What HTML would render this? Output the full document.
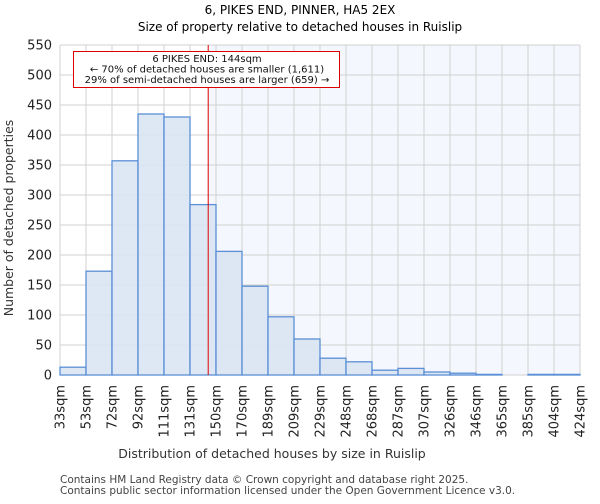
<!DOCTYPE html>
<html><head><meta charset="utf-8"><style>
body{margin:0;background:#fff;font-family:"DejaVu Sans","Liberation Sans",sans-serif}
</style></head><body>
<svg width="600" height="500" xmlns="http://www.w3.org/2000/svg" font-family="DejaVu Sans, Liberation Sans, sans-serif">
<text x="300" y="14" font-size="12" text-anchor="middle">6, PIKES END, PINNER, HA5 2EX</text>
<text x="300" y="31" font-size="12" text-anchor="middle">Size of property relative to detached houses in Ruislip</text>
<g id="plot"></g>
<text x="272" y="458" font-size="12.5" text-anchor="middle" fill="#333">Distribution of detached houses by size in Ruislip</text>
<text transform="translate(13,218) rotate(-90)" font-size="12.5" text-anchor="middle" fill="#333">Number of detached properties</text>
<text x="60" y="483" font-size="10.5" fill="#444">Contains HM Land Registry data © Crown copyright and database right 2025.</text>
<text x="60" y="494" font-size="10.5" fill="#444">Contains public sector information licensed under the Open Government Licence v3.0.</text>
</svg>
<script>
const categories=["33sqm","53sqm","72sqm","92sqm","111sqm","131sqm","150sqm","170sqm","189sqm","209sqm","229sqm","248sqm","268sqm","287sqm","307sqm","326sqm","346sqm","365sqm","385sqm","404sqm","424sqm"];
const counts=[13,173,357,435,430,284,206,148,97,60,28,22,8,11,5,3,1,0,1,1];
const yTicks=[0,50,100,150,200,250,300,350,400,450,500,550];
const markerPosition=5.7;
const NS="http://www.w3.org/2000/svg";
const L=60,R=580,T=45,B=375,YMAX=550;
const nb=counts.length;
const xS=i=>L+(R-L)*i/nb;
const yS=v=>B-(B-T)*v/YMAX;
const g=document.getElementById('plot');
function mk(t,a){const e=document.createElementNS(NS,t);for(const k in a)e.setAttribute(k,a[k]);g.appendChild(e);return e;}
const mx=xS(markerPosition);
let e=mk('rect',{x:mx,y:T,width:R-mx,height:B-T,fill:'#f4f7fd'});


yTicks.forEach(v=>{
 let l=mk('line',{x1:L,x2:R,y1:yS(v),y2:yS(v),stroke:'#d0d0d0','stroke-width':1});
 
 
 let t=mk('text',{x:L-8,y:yS(v)+4.5,'font-size':13,'text-anchor':'end',fill:'#222'});t.textContent=v;
 
 
});
categories.forEach((c,i)=>{
 let l=mk('line',{x1:xS(i),x2:xS(i),y1:T,y2:B,stroke:'#d0d0d0','stroke-width':1});
 
 
 let t=mk('text',{transform:`translate(${xS(i)+4.5},${B+10}) rotate(-90)`,'font-size':13,'text-anchor':'end',fill:'#222'});t.textContent=c;
 
 
});
counts.forEach((v,i)=>{
 let r=mk('rect',{x:xS(i),y:yS(v),width:xS(i+1)-xS(i),height:B-yS(v),fill:'#dae4f3','fill-opacity':0.9,stroke:'#5b8fd6','stroke-width':1.3});
 
 
});
e=mk('line',{x1:mx,x2:mx,y1:T,y2:B,stroke:'#dd0000','stroke-width':1});


e=mk('rect',{x:73.5,y:51.5,width:266,height:36,fill:'#fff',stroke:'#dd0000','stroke-width':1});


["6 PIKES END: 144sqm","← 70% of detached houses are smaller (1,611)","29% of semi-detached houses are larger (659) →"].forEach((s,i)=>{
 let t=mk('text',{x:207,y:62+i*10.5,'font-size':10,'text-anchor':'middle',fill:'#111'});t.textContent=s;
 
 
});
</script>
</body></html>
